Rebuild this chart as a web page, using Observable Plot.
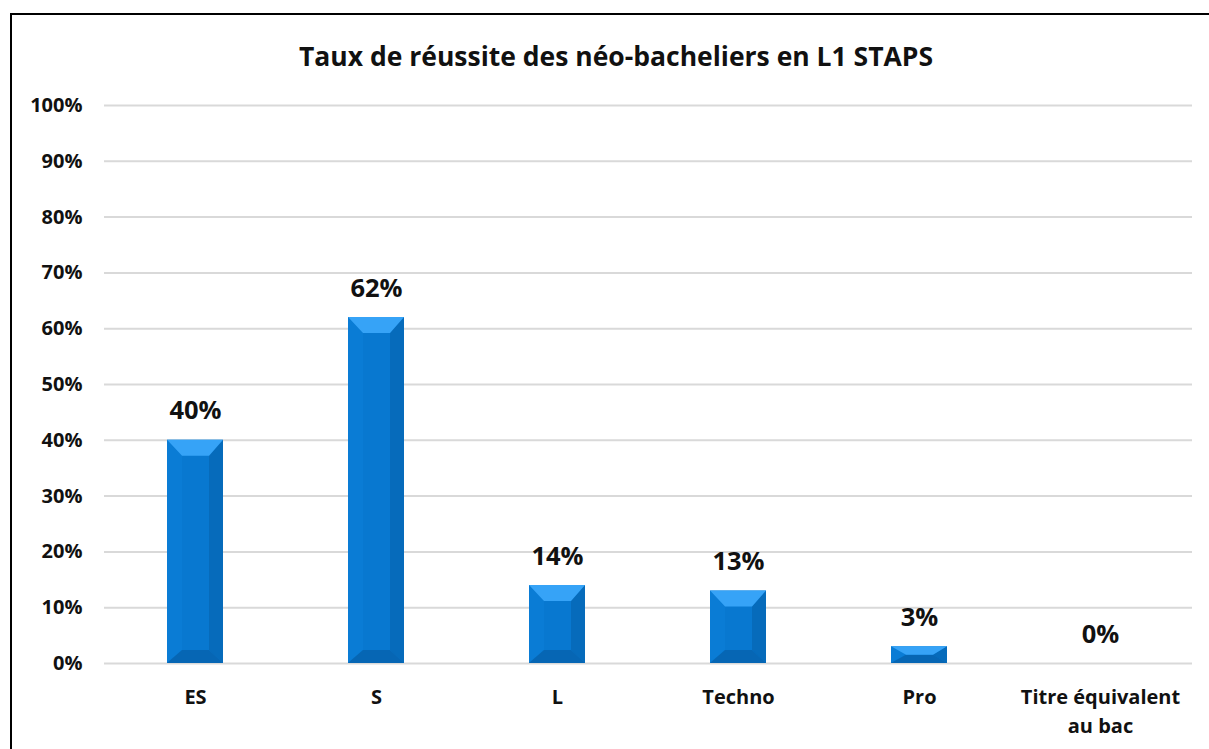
<!DOCTYPE html>
<html>
<head>
<meta charset="utf-8">
<script src="https://cdn.jsdelivr.net/npm/d3@7"></script>
<script src="https://cdn.jsdelivr.net/npm/@observablehq/plot@0.6"></script>
<style>
  html, body { margin: 0; padding: 0; background: #fff; overflow: hidden; }
  #wrap { position: relative; width: 1209px; height: 749px; overflow: hidden; font-family: "Open Sans", sans-serif; }
  #frame { position: absolute; left: 10px; top: 13px; width: 1400px; height: 900px; border: 2px solid #000; box-sizing: border-box; }
  #title { position: absolute; left: 0; width: 1232px; top: 38px; line-height: 36px; text-align: center; font-size: 26.5px; font-weight: bold; color: #111; }
  #chart { position: absolute; left: 0; top: 80px; }
</style>
</head>
<body>
<div id="wrap">
  <div id="frame"></div>
  <div id="title">Taux de réussite des néo-bacheliers en L1 STAPS</div>
  <div id="chart"></div>
</div>
<script>
const categories = ["ES", "S", "L", "Techno", "Pro", "Titre équivalent\nau bac"];
const values = [40, 62, 14, 13, 3, 0];
const yTicks = [0, 10, 20, 30, 40, 50, 60, 70, 80, 90, 100];

const data = categories.map((c, i) => ({cat: c, val: values[i]}));

const plot = Plot.plot({
  width: 1209,
  height: 669,
  marginTop: 25,
  marginBottom: 86,
  marginLeft: 104,
  marginRight: 17,
  style: {fontFamily: "'Open Sans', sans-serif", background: "transparent"},
  x: {domain: categories, paddingInner: 0.69, paddingOuter: 0.345, label: null},
  y: {domain: [0, 100], label: null},
  marks: [
    Plot.ruleY(yTicks, {stroke: "#d9d9d9", strokeWidth: 2}),
    Plot.axisY(yTicks, {tickSize: 0, tickPadding: 22, tickFormat: d => d + "%", fontSize: 20, fontWeight: "bold", fill: "#111"}),
    Plot.axisX({tickSize: 0, tickPadding: 20, fontSize: 20, fontWeight: "bold", fill: "#111", lineHeight: 1.45}),
    Plot.barY(data, {x: "cat", y: "val", fill: "#0878d0"}),
    Plot.text(data, {x: "cat", y: "val", text: d => d.val + "%", dy: -29, fontSize: 25.5, fontWeight: "bold", fill: "#111"})
  ]
});
document.getElementById("chart").appendChild(plot);

// bevel effect on bars, derived from the rendered bar geometry
const svg = d3.select(plot);
svg.selectAll('g[aria-label="bar"] rect').each(function() {
  const r = d3.select(this);
  const x = +r.attr("x"), y = +r.attr("y"), w = +r.attr("width"), h = +r.attr("height");
  const g = d3.select(this.parentNode);
  if (!(h > 0)) { r.remove(); return; }
  const bt = Math.min(16, h / 2), bb = Math.min(13, h / 2), bl = 15, br = 14;
  const polys = [
    {c: "#0878d0", p: [[x, y], [x + w, y], [x + w, y + h], [x, y + h]]},
    {c: "#0a7cd5", p: [[x, y], [x + bl, y + bt], [x + bl, y + h - bb], [x, y + h]]},
    {c: "#066bbb", p: [[x + w, y], [x + w, y + h], [x + w - br, y + h - bb], [x + w - br, y + bt]]},
    {c: "#0666b4", p: [[x, y + h], [x + bl, y + h - bb], [x + w - br, y + h - bb], [x + w, y + h]]},
    {c: "#36a3f7", p: [[x, y], [x + w, y], [x + w - br, y + bt], [x + bl, y + bt]]}
  ];
  polys.forEach(o => g.append("polygon").attr("points", o.p.map(q => q.join(",")).join(" ")).attr("fill", o.c));
  r.remove();
});
</script>
</body>
</html>
